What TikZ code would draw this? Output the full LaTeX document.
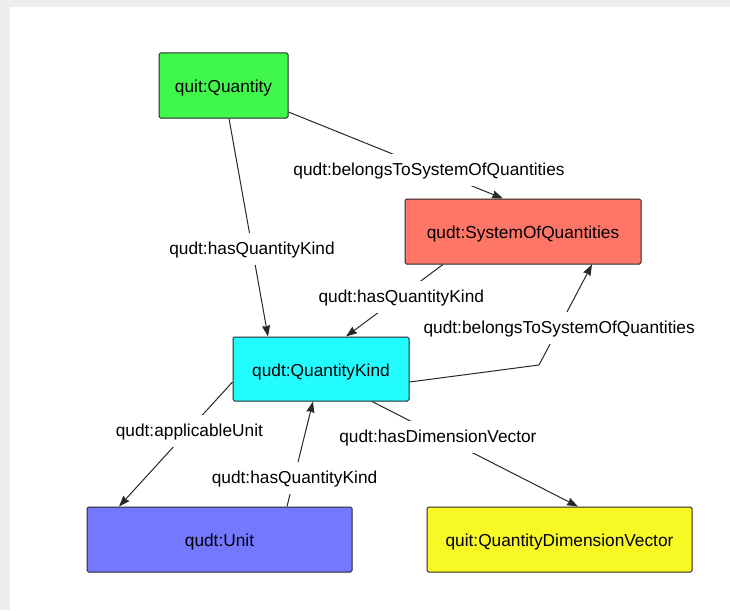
\documentclass[tikz,border=0pt]{standalone}
\usepackage{fontspec}
\setmainfont{Liberation Sans}
\usetikzlibrary{arrows.meta,calc}
\definecolor{cgreen}{RGB}{64,248,74}
\definecolor{csalmon}{RGB}{255,118,102}
\definecolor{ccyan}{RGB}{34,252,255}
\definecolor{cblue}{RGB}{116,120,255}
\definecolor{cyellow}{RGB}{248,248,36}
\definecolor{cline}{RGB}{40,40,40}
\definecolor{cshadow}{RGB}{238,238,238}
\begin{document}
\begin{tikzpicture}[x=1pt,y=-1pt,
  box/.style={draw=cline,line width=1pt,rounded corners=1.5pt,inner sep=0pt,
    text height=14.5pt,text depth=0pt,font=\fontsize{17.3}{20}\selectfont},
  edge/.style={draw=cline,line width=1pt,-{Stealth[length=11pt,width=8pt,inset=1pt]}},
  lbl/.style={fill=white,inner xsep=2pt,inner ysep=7pt,text height=14.5pt,text depth=3.5pt,
    yshift=-1.5pt,font=\fontsize{17.3}{20}\selectfont}]
\useasboundingbox (0,0) rectangle (730,610);
\fill[cshadow] (0,0) rectangle (730,610);
\fill[white] (10,7) rectangle (730,610);
\node[box,fill=cgreen,minimum width=129pt,minimum height=65pt] (q) at (223.5,85.5) {quit:Quantity};
\node[box,fill=csalmon,minimum width=236pt,minimum height=65pt] (s) at (523,231.5) {qudt:SystemOfQuantities};
\node[box,fill=ccyan,minimum width=176pt,minimum height=64pt] (k) at (321,369) {qudt:QuantityKind};
\node[box,fill=cblue,minimum width=265pt,minimum height=65pt] (u) at (219.5,539.5) {qudt:Unit};
\node[box,fill=cyellow,minimum width=265pt,minimum height=65pt] (v) at (559.5,539.5) {quit:QuantityDimensionVector};
\coordinate (bend) at (539,365);
\draw[edge] ([yshift=-26.5pt]q.east) -- node[lbl,pos=0.655] {qudt:belongsToSystemOfQuantities} ([xshift=-20pt]s.north);
\draw[edge] ([xshift=5.5pt]q.south) -- node[lbl,pos=0.59] {qudt:hasQuantityKind} ([xshift=-53pt]k.north);
\draw[edge] ([xshift=-80pt]s.south) -- node[lbl,pos=0.43] {qudt:hasQuantityKind} ([xshift=25pt]k.north);
\draw[edge] ([yshift=-13pt]k.east) -- (bend) -- node[lbl,pos=0.38] {qudt:belongsToSystemOfQuantities} ([xshift=69pt]s.south);
\draw[edge] ([yshift=-13pt]k.west) -- node[lbl,pos=0.38] {qudt:applicableUnit} ([xshift=-100.5pt]u.north);
\draw[edge] ([xshift=67.5pt]u.north) -- node[lbl,pos=0.29] {qudt:hasQuantityKind} ([xshift=-8pt]k.south);
\draw[edge] ([xshift=51pt]k.south) -- node[lbl,pos=0.32] {qudt:hasDimensionVector} ([xshift=18.5pt]v.north);
\end{tikzpicture}
\end{document}
